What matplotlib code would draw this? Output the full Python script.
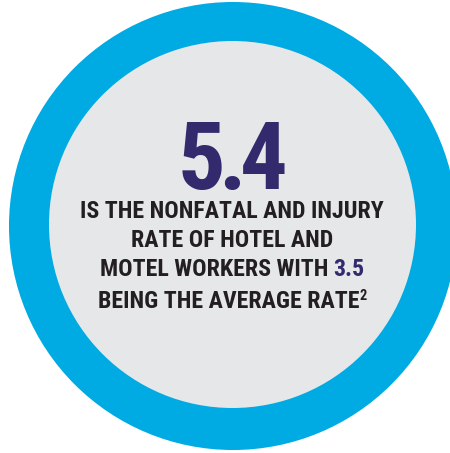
import matplotlib
matplotlib.use("Agg")
import matplotlib.pyplot as plt
from matplotlib.patches import Circle

# Values
headline = ["5", ".", "4"]
average = "3.5"
footnote = "2"
lines = [
    [("IS THE NONFATAL AND INJURY", "black")],
    [("RATE OF HOTEL AND", "black")],
    [("MOTEL WORKERS WITH ", "black"), (average, "purple")],
    [("BEING THE AVERAGE RATE", "black"), (footnote, "sup")],
]

BLUE = "#00aae2"
GRAY = "#e6e7e9"
PURPLE = "#332a6e"
BLACK = "#231f20"
FONT = ["Roboto Condensed", "Barlow Condensed", "DejaVu Sans"]

W, H = 450, 453
fig = plt.figure(figsize=(W / 100, H / 100), dpi=100)
ax = fig.add_axes([0, 0, 1, 1])
ax.set_xlim(0, W)
ax.set_ylim(H, 0)
ax.axis("off")
fig.patch.set_facecolor("white")

ax.add_patch(Circle((233, 226), 224, color=BLUE, lw=0))
ax.add_patch(Circle((232.5, 224.5), 183.5, color=GRAY, lw=0))

# big number, set tight like the original condensed face
for ch, xc in zip(headline, [201, 231.5, 264]):
    ax.text(xc, 189, ch, fontsize=68, fontweight=900, family=FONT,
            color=PURPLE, ha="center", va="baseline")

renderer = fig.canvas.get_renderer()
cx = 232
baselines = [218, 247, 276, 308]
size = 17.2
for parts, base in zip(lines, baselines):
    objs = []
    for txt, kind in parts:
        if kind == "sup":
            t = ax.text(0, base - 8, txt, fontsize=size * 0.6, fontweight=800,
                        family=FONT, color=BLACK, va="baseline")
        else:
            t = ax.text(0, base, txt, fontsize=size, fontweight=800, family=FONT,
                        color=PURPLE if kind == "purple" else BLACK, va="baseline")
        objs.append(t)
    widths = [t.get_window_extent(renderer).width for t in objs]
    x = cx - sum(widths) / 2
    for t, w in zip(objs, widths):
        t.set_x(x)
        x += w

fig.savefig("out.png", dpi=100)
